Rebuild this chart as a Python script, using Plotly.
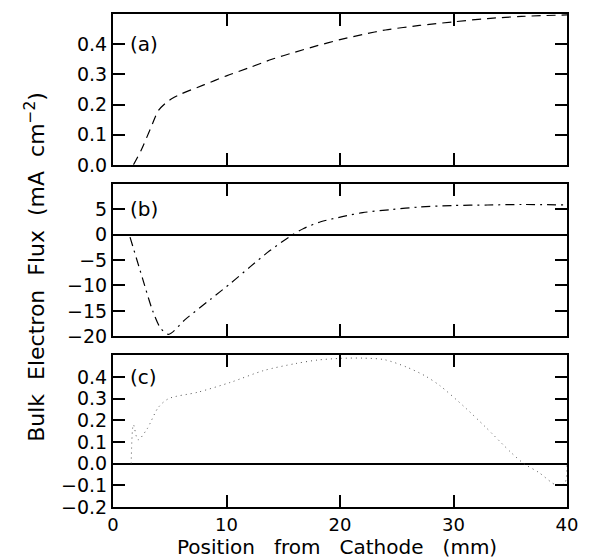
import plotly.graph_objects as go

# Panel (a)
xa = [1.8, 2.5, 3.3, 4.0, 4.65, 5.2, 6.0, 8.0, 10.0, 12.0, 14.0, 16.0, 18.0, 20.0, 22.0, 24.0, 27.0, 30.0, 33.0, 36.0, 40.0]
ya = [0.0, 0.05, 0.12, 0.18, 0.205, 0.22, 0.235, 0.265, 0.295, 0.322, 0.35, 0.373, 0.395, 0.415, 0.432, 0.447, 0.462, 0.474, 0.485, 0.492, 0.497]

# Panel (b)
xb = [1.5, 2.6, 3.5, 4.2, 4.9, 6.4, 8.6, 10.4, 12.1, 13.8, 15.5, 16.8, 18.3, 20.2, 22.0, 24.5, 27.0, 29.9, 33.0, 36.0, 40.0]
yb = [-0.5, -8.6, -15.0, -18.4, -19.6, -16.6, -12.7, -9.5, -6.3, -3.2, -0.5, 1.2, 2.5, 3.5, 4.3, 4.9, 5.4, 5.7, 5.8, 5.9, 5.8]

# Panel (c)
xc = [1.6, 1.8, 2.2, 3.0, 4.0, 4.9, 7.5, 10.4, 13.3, 16.1, 18.0, 20.1, 22.0, 23.9, 25.9, 27.5, 28.8, 31.0, 32.8, 35.1, 36.2, 37.5, 39.1, 39.8, 40.0]
yc = [0.0, 0.18, 0.11, 0.16, 0.26, 0.30, 0.33, 0.376, 0.43, 0.462, 0.478, 0.486, 0.487, 0.48, 0.445, 0.405, 0.36, 0.26, 0.17, 0.05, 0.0, -0.04, -0.1, -0.09, 0.0]

x_ticks = [0, 10, 20, 30, 40]
ya_ticks = [0.0, 0.1, 0.2, 0.3, 0.4]
yb_ticks = [-20, -15, -10, -5, 0, 5]
yc_ticks = [-0.2, -0.1, 0.0, 0.1, 0.2, 0.3, 0.4]

FONT = "DejaVu Sans"
fig = go.Figure()
fig.add_trace(go.Scatter(x=xa, y=ya, mode="lines", line=dict(color="black", width=1.2, dash="9px,6px", shape="spline", smoothing=0.8),
                         xaxis="x", yaxis="y", showlegend=False))
fig.add_trace(go.Scatter(x=xb, y=yb, mode="lines", line=dict(color="black", width=1.2, dash="9px,5px,2px,5px", shape="spline", smoothing=0.8),
                         xaxis="x2", yaxis="y2", showlegend=False))
fig.add_trace(go.Scatter(x=xc, y=yc, mode="lines", line=dict(color="#555555", width=1, dash="1px,4px", shape="spline", smoothing=0.8),
                         xaxis="x3", yaxis="y3", showlegend=False))

common_x = dict(range=[0, 40], tickvals=x_ticks, ticks="inside", ticklen=12, tickwidth=1.5,
                showline=True, linewidth=2, linecolor="black", mirror="ticks", showgrid=False, zeroline=False,
                tickfont=dict(family=FONT, size=18, color="black"), tickcolor="black")
common_y = dict(ticks="inside", ticklen=12, tickwidth=1.5, showline=True, linewidth=2, linecolor="black",
                mirror="ticks", showgrid=False, tickfont=dict(family=FONT, size=19, color="black"), tickcolor="black")

fig.update_layout(
    width=590, height=558,
    margin=dict(l=113, r=13, t=13, b=51),
    paper_bgcolor="white", plot_bgcolor="white",
    xaxis=dict(**common_x, domain=[0, 1], anchor="y", showticklabels=False),
    xaxis2=dict(**common_x, domain=[0, 1], anchor="y2", showticklabels=False, matches="x"),
    xaxis3=dict(**common_x, domain=[0, 1], anchor="y3", showticklabels=True, matches="x"),
    yaxis=dict(**common_y, domain=[0.694, 1.0], range=[0, 0.5], tickvals=ya_ticks, ticktext=["0.0", "0.1", "0.2", "0.3", "0.4"], zeroline=False),
    yaxis2=dict(**common_y, domain=[0.346, 0.656], range=[-20, 10], tickvals=yb_ticks, ticktext=["\u221220", "\u221215", "\u221210", "\u22125", "0", "5"],
                zeroline=True, zerolinecolor="black", zerolinewidth=1.5),
    yaxis3=dict(**common_y, domain=[0.0, 0.3077], range=[-0.2, 0.5], tickvals=yc_ticks,
                ticktext=["\u22120.2", "\u22120.1", "0.0", "0.1", "0.2", "0.3", "0.4"],
                zeroline=True, zerolinecolor="black", zerolinewidth=1.5),
    annotations=[
        dict(text="(a)", x=1.3, y=0.4, xref="x", yref="y", xanchor="left", yanchor="middle", showarrow=False,
             font=dict(family=FONT, size=20, color="black")),
        dict(text="(b)", x=1.3, y=5, xref="x2", yref="y2", xanchor="left", yanchor="middle", showarrow=False,
             font=dict(family=FONT, size=20, color="black")),
        dict(text="(c)", x=1.3, y=0.4, xref="x3", yref="y3", xanchor="left", yanchor="middle", showarrow=False,
             font=dict(family=FONT, size=20, color="black")),
        dict(text="Bulk\u00a0 Electron\u00a0 Flux\u00a0 (mA\u00a0 cm<sup>\u22122</sup>)", x=-0.172, y=0.487,
             xref="paper", yref="paper", xanchor="center", yanchor="middle", textangle=-90, showarrow=False,
             font=dict(family=FONT, size=22, color="black")),
        dict(text="Position\u00a0\u00a0 from\u00a0\u00a0 Cathode\u00a0\u00a0 (mm)", x=0.494, y=-0.081, xref="paper", yref="paper",
             xanchor="center", yanchor="middle", showarrow=False, font=dict(family=FONT, size=20, color="black")),
    ],
)

fig.write_html("out.html")
